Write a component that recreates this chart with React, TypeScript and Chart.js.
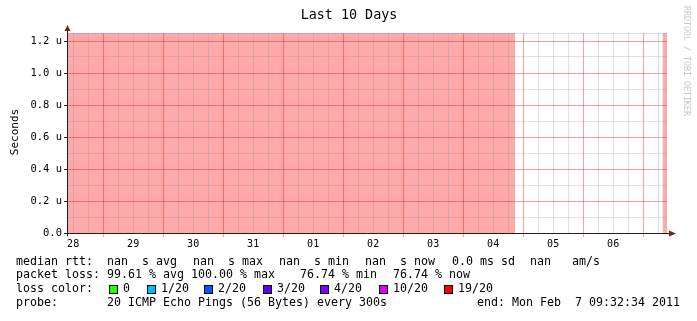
import React, { useEffect, useRef } from 'react';
import { Chart, registerables } from 'chart.js';

Chart.register(...registerables);

// ---- text ----
const chartTitle = 'Last 10 Days';
const yAxisTitle = 'Seconds';
const watermark = 'RRDTOOL / TOBI OETIKER';

// ---- time axis (hours since Jan 28 00:00) ----
const dayLabels = ['28', '29', '30', '31', '01', '02', '03', '04', '05', '06'];
const startHour = 9 + 32 / 60 + 34 / 3600; // Jan 28 09:32:34
const spanHours = 240; // 10 days
const yMax = 1.25; // micro-seconds

// ---- loss / unknown bands (hours) ----
const lossBandStart = [startHour, 247.8];
const lossBandEnd = [188.74, startHour + spanHours];
const lossBandValue = [1.25, 1.25];

// ---- legend text ----
const rttLabel = 'median rtt:';
const rttItems = ['nan  s avg', 'nan  s max', 'nan  s min', 'nan  s now', '0.0 ms sd', 'nan   am/s'];
const lossLabel = 'packet loss:';
const lossItems = ['99.61 % avg', '100.00 % max', '76.74 % min', '76.74 % now'];
const colorLabel = 'loss color:';
const lossColorNames = ['0', '1/20', '2/20', '3/20', '4/20', '10/20', '19/20'];
const lossColors = ['#26ff00', '#00b8ff', '#0059ff', '#5e00ff', '#7e00ff', '#dd00ff', '#ff0000'];
const probeLabel = 'probe:';
const probeText = '20 ICMP Echo Pings (56 Bytes) every 300s';
const endText = 'end: Mon Feb  7 09:32:34 2011';

const MONO = '"DejaVu Sans Mono", monospace';
const MINOR = 'rgba(143,143,143,0.28)';
const MAJOR = 'rgba(255,0,0,0.38)';
const ARROW = 'rgb(128,31,31)';

const decorPlugin = {
  id: 'rrdDecor',
  afterDraw(chart: any) {
    const ctx = chart.ctx as CanvasRenderingContext2D;
    const area = chart.chartArea;
    ctx.save();

    // title
    ctx.fillStyle = '#000';
    ctx.font = `13.4px ${MONO}`;
    ctx.textAlign = 'center';
    ctx.textBaseline = 'middle';
    ctx.fillText(chartTitle, 349, 15.5);

    // y axis title
    ctx.save();
    ctx.translate(15, 132);
    ctx.rotate(-Math.PI / 2);
    ctx.font = `11px ${MONO}`;
    ctx.fillText(yAxisTitle, 0, 0);
    ctx.restore();

    // watermark
    ctx.save();
    ctx.translate(686, 61);
    ctx.rotate(Math.PI / 2);
    ctx.font = `8.3px ${MONO}`;
    ctx.fillStyle = 'rgb(200,200,200)';
    ctx.fillText(watermark, 0, 0);
    ctx.restore();

    // axes
    const ax = Math.round(area.left) + 0.5;
    const ay = Math.round(area.bottom) + 0.5;
    ctx.strokeStyle = 'rgb(31,31,31)';
    ctx.lineWidth = 1;
    ctx.beginPath();
    ctx.moveTo(ax, ay + 3);
    ctx.lineTo(ax, area.top - 2);
    ctx.moveTo(ax - 3, ay);
    ctx.lineTo(area.right + 3, ay);
    ctx.stroke();
    ctx.fillStyle = ARROW;
    ctx.beginPath();
    ctx.moveTo(ax, area.top - 8);
    ctx.lineTo(ax - 3, area.top - 2);
    ctx.lineTo(ax + 3, area.top - 2);
    ctx.closePath();
    ctx.fill();
    ctx.beginPath();
    ctx.moveTo(area.right + 9, ay);
    ctx.lineTo(area.right + 2, ay - 3);
    ctx.lineTo(area.right + 2, ay + 3);
    ctx.closePath();
    ctx.fill();

    // legend
    ctx.fillStyle = '#000';
    ctx.font = `11.63px ${MONO}`;
    ctx.textAlign = 'left';
    ctx.textBaseline = 'middle';
    const rowY = [261.5, 275, 289, 302.5];
    const colX = 16;
    const rttX = [107, 193, 279, 365, 452, 530];
    const lossX = [107, 191, 300, 393];
    const squareX = [109, 147, 204, 263, 320, 379, 444];

    ctx.fillText(rttLabel, colX, rowY[0]);
    rttItems.forEach((t, i) => ctx.fillText(t, rttX[i], rowY[0]));

    ctx.fillText(lossLabel, colX, rowY[1]);
    lossItems.forEach((t, i) => ctx.fillText(t, lossX[i], rowY[1]));

    ctx.fillText(colorLabel, colX, rowY[2]);
    lossColorNames.forEach((t, i) => {
      const x = squareX[i];
      ctx.fillStyle = '#000';
      ctx.fillRect(x, 285, 9, 9);
      ctx.fillStyle = lossColors[i];
      ctx.fillRect(x + 1, 286, 7, 7);
      ctx.fillStyle = '#000';
      ctx.fillText(t, x + 14, rowY[2]);
    });

    ctx.fillText(probeLabel, colX, rowY[3]);
    ctx.fillText(probeText, 107, rowY[3]);
    ctx.textAlign = 'right';
    ctx.fillText(endText, 680, rowY[3]);

    ctx.restore();
  },
};

// tick values for the axes (grid positions)
const xTickHours: number[] = [];
for (let h = Math.ceil(startHour / 6) * 6; h <= startHour + spanHours; h += 6) xTickHours.push(h);
const yTickValues: number[] = [];
for (let i = 0; i <= 12; i++) yTickValues.push(i / 10);
yTickValues.push(yMax);

const isMajorY = (v: number) => {
  const t = v * 10;
  return Math.abs(t - Math.round(t)) < 1e-6 && Math.round(t) % 2 === 0;
};
const isMajorX = (h: number) => ((h % 24) + 24) % 24 === 0;

export default function App() {
  const ref = useRef<HTMLCanvasElement | null>(null);

  useEffect(() => {
    document.body.style.margin = '0';
    const canvas = ref.current;
    if (!canvas) return;

    const bandData: { x: number; y: number | null }[] = [];
    lossBandStart.forEach((s, i) => {
      bandData.push({ x: s, y: lossBandValue[i] });
      bandData.push({ x: lossBandEnd[i], y: lossBandValue[i] });
      bandData.push({ x: lossBandEnd[i], y: null });
    });

    const xGridColors = xTickHours.map((h) => (isMajorX(h) ? MAJOR : MINOR));
    const xTickColors = xTickHours.map((h) => (isMajorX(h) ? MAJOR : 'rgba(0,0,0,0)'));
    const yGridColors = yTickValues.map((v) => (isMajorY(v) ? MAJOR : MINOR));
    const yTickColors = yTickValues.map((v) => (isMajorY(v) ? 'rgb(31,31,31)' : 'rgba(0,0,0,0)'));

    const chart = new Chart(canvas, {
      type: 'line',
      data: {
        datasets: [
          {
            data: bandData as any,
            fill: 'origin',
            backgroundColor: '#ffaaaa',
            borderColor: '#c8a4ee',
            borderWidth: 1,
            pointRadius: 0,
            spanGaps: false,
            tension: 0,
          },
        ],
      },
      options: {
        responsive: false,
        animation: false,
        events: [],
        layout: { padding: { top: 33, right: 30, bottom: 0, left: 0 } },
        plugins: { legend: { display: false }, tooltip: { enabled: false }, title: { display: false } },
        scales: {
          x: {
            type: 'linear',
            min: startHour,
            max: startHour + spanHours,
            border: { display: false },
            grid: {
              z: 1,
              color: xGridColors,
              tickColor: xTickColors,
              tickLength: 4,
            },
            ticks: {
              autoSkip: false,
              maxRotation: 0,
              padding: 1,
              color: '#000',
              font: { family: MONO, size: 10 },
              callback: (v: any) => {
                const h = Number(v);
                if (((h % 24) + 24) % 24 === 12) return dayLabels[Math.floor(h / 24)];
                return '';
              },
            },
            afterBuildTicks: (s: any) => {
              s.ticks = xTickHours.map((h) => ({ value: h }));
            },
            afterFit: (s: any) => {
              s.height = 88;
            },
          },
          y: {
            type: 'linear',
            min: 0,
            max: yMax,
            border: { display: false },
            grid: {
              z: 1,
              color: yGridColors,
              tickColor: yTickColors,
              tickLength: 3,
            },
            ticks: {
              autoSkip: false,
              padding: 2,
              color: '#000',
              font: { family: MONO, size: 10.5 },
              callback: (v: any) => {
                const n = Number(v);
                if (!isMajorY(n) || n > 1.2 + 1e-6) return '';
                return n === 0 ? '0.0' : n.toFixed(1) + ' u';
              },
            },
            afterBuildTicks: (s: any) => {
              s.ticks = yTickValues.map((v) => ({ value: v }));
            },
            afterFit: (s: any) => {
              s.width = 67;
            },
          },
        },
      },
      plugins: [decorPlugin],
    });

    return () => chart.destroy();
  }, []);

  return (
    <canvas
      ref={ref}
      width={697}
      height={321}
      style={{ display: 'block', width: 697, height: 321, background: '#fff' }}
    />
  );
}
